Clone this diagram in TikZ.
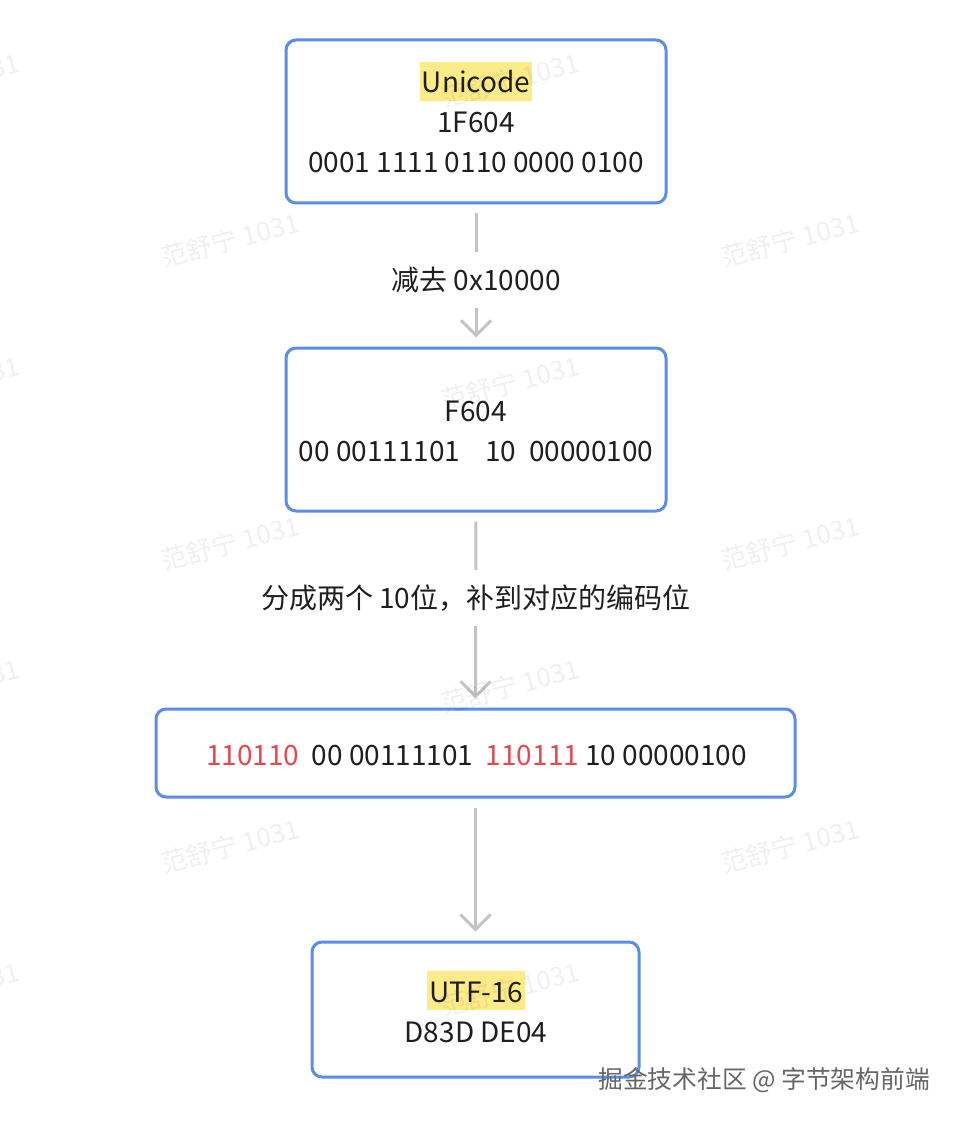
\documentclass[tikz,border=0pt]{standalone}
\usepackage{fontspec}
\setmainfont{Noto Sans CJK SC}
\usetikzlibrary{arrows.meta}

\definecolor{boxblue}{HTML}{5B8DEF}
\definecolor{linkgray}{HTML}{C4C4C4}
\definecolor{bitred}{HTML}{E5484D}
\definecolor{hlyellow}{HTML}{FCEB87}
\definecolor{ink}{HTML}{1F1F1F}

\newlength\pxu
\setlength\pxu{0.025cm}

\begin{document}
\begin{tikzpicture}[x=\pxu, y=-\pxu,
      every node/.style={font=\fontsize{19.9}{28}\selectfont, text=ink},
      codebox/.style={rectangle, rounded corners=10\pxu, draw=boxblue,
        line width=3\pxu, fill=white, inner sep=0pt},
      codeline/.style={anchor=base, inner sep=0pt},
      hl/.style={anchor=base, fill=hlyellow, inner xsep=2\pxu, inner ysep=0pt,
        text height=31\pxu, text depth=8\pxu},
      link/.style={draw=linkgray, line width=3\pxu,
        -{Straight Barb[length=0.375cm, width=0.75cm]},
        shorten <=9\pxu, shorten >=9\pxu},
      steplabel/.style={fill=white, minimum height=56\pxu, inner xsep=2\pxu},
      wmark/.style={rotate=15, text=black, text opacity=0.06,
        font=\fontsize{18.5}{20}\selectfont}]

    \useasboundingbox (0,0) rectangle (960,1122);

    \node[codebox, minimum width=380\pxu, minimum height=163\pxu] (unicode) at (476,121.5) {};
    \node[codebox, minimum width=380\pxu, minimum height=163\pxu] (f604) at (476,429.5) {};
    \node[codebox, minimum width=639\pxu, minimum height=88\pxu] (bits) at (475.5,753) {};
    \node[codebox, minimum width=327\pxu, minimum height=135\pxu] (utf16) at (475.5,1009.5) {};

    \node[hl] (t1) at (476,93) {Unicode};
    \node[codeline] (t2) at (476,133) {1F604};
    \node[codeline] (t3) at (476,173) {0001 1111 0110 0000 0100};

    \node[codeline] (t4) at (476,421) {F604};
    \node[codeline] (t5) at (476,461) {00 00111101~~~~10~~00000100};

    \node[codeline] (t6) at (476.5,765)
      {\textcolor{bitred}{110110}~~00 00111101~~\textcolor{bitred}{110111} 10 00000100};

    \node[hl] (t7) at (476,1002) {UTF-16};
    \node[codeline] (t8) at (476,1042) {D83D DE04};

    \draw[link] (unicode) -- (f604) node[steplabel, pos=0.53] (l1) {减去 0x10000};
    \draw[link] (f604) -- (bits) node[steplabel, pos=0.44] (l2) {分成两个 10位，补到对应的编码位};
    \draw[link] (bits) -- (utf16);

    \node[font=\fontsize{17.6}{20}\selectfont, text=black!60] (site) at (764,1080)
      {掘金技术社区 @ 字节架构前端};

    \foreach \wx/\wy in {230/240, 790/240, 230/543, 790/543, 230/846, 790/846,
        510/80, 510/383, 510/686, 510/989, -50/80, -50/383, -50/686, -50/989}
      \node[wmark] at (\wx,\wy) {范舒宁 1031};

\end{tikzpicture}
\end{document}
